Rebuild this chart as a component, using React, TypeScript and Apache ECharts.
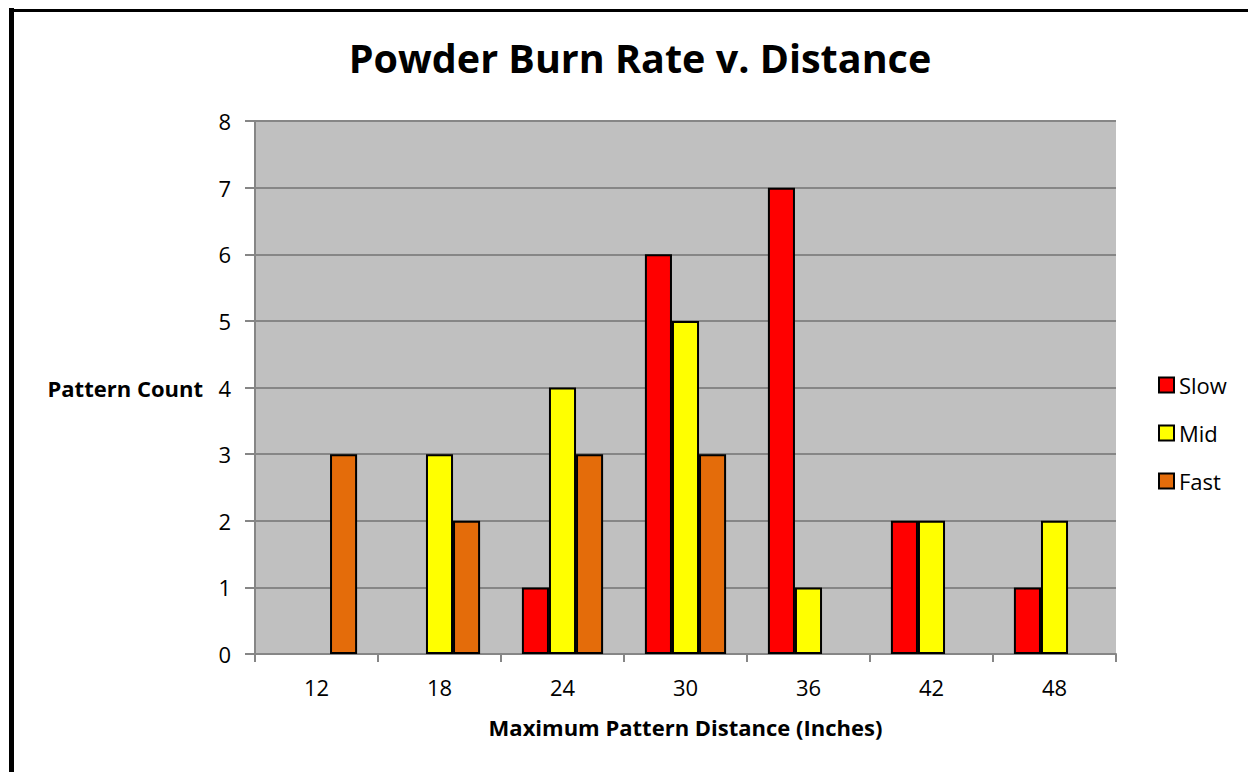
import React, { useEffect, useRef } from "react";
import * as echarts from "echarts";

const categories = ["12", "18", "24", "30", "36", "42", "48"];
const slowValues = [null, null, 1, 6, 7, 2, 1];
const midValues = [null, 3, 4, 5, 1, 2, 2];
const fastValues = [3, 2, 3, 3, null, null, null];
const yTicks = [0, 1, 2, 3, 4, 5, 6, 7, 8];

const FONT = "'Open Sans', 'Noto Sans', sans-serif";

export default function App() {
  const ref = useRef<HTMLDivElement>(null);
  useEffect(() => {
    if (!ref.current) return;
    const chart = echarts.init(ref.current, null, { renderer: "svg" });
    const barStyle = (color: string) => ({
      color,
      borderColor: "#000000",
      borderWidth: 2,
    });
    chart.setOption({
      animation: false,
      backgroundColor: "#ffffff",
      textStyle: { fontFamily: FONT },
      title: {
        text: "Powder Burn Rate v. Distance",
        left: 635,
        top: 33,
        textAlign: "center",
        textStyle: { fontFamily: FONT, fontWeight: "bold", fontSize: 39.5, color: "#000" },
      },
      grid: { left: 255, right: 132, top: 121, bottom: 118 },
      legend: {
        orient: "vertical",
        left: 1153,
        top: 369,
        itemWidth: 15,
        itemHeight: 15,
        itemGap: 26,
        icon: "rect",
        textStyle: { fontFamily: FONT, fontSize: 22, color: "#000" },
        data: ["Slow", "Mid", "Fast"],
      },
      xAxis: {
        type: "category",
        data: categories,
        axisLine: { lineStyle: { color: "#868686", width: 2 } },
        axisTick: { show: true, length: 8, lineStyle: { color: "#868686", width: 2 } },
        axisLabel: { fontFamily: FONT, fontSize: 22, color: "#000", margin: 22 },
        name: "Maximum Pattern Distance (Inches)",
        nameLocation: "middle",
        nameGap: 62,
        nameTextStyle: { fontFamily: FONT, fontSize: 22, fontWeight: "bold", color: "#000" },
      },
      yAxis: {
        type: "value",
        min: yTicks[0],
        max: yTicks[yTicks.length - 1],
        interval: 1,
        axisLine: { show: true, lineStyle: { color: "#868686", width: 2 } },
        axisTick: { show: true, length: 10, lineStyle: { color: "#868686", width: 2 } },
        axisLabel: { fontFamily: FONT, fontSize: 22, color: "#000", margin: 24 },
        splitLine: { show: true, lineStyle: { color: "#868686", width: 2 } },
        splitArea: { show: true, areaStyle: { color: ["#C0C0C0", "#C0C0C0"] } },
      },
      graphic: [
        {
          type: "text",
          x: 203,
          y: 388,
          style: {
            text: "Pattern Count",
            fontFamily: FONT,
            fontSize: 22,
            fontWeight: "bold",
            fill: "#000",
            align: "right",
            verticalAlign: "middle",
          },
        },
        {
          type: "line",
          shape: { x1: 11.5, y1: 8, x2: 11.5, y2: 772 },
          style: { stroke: "#000", lineWidth: 5 },
        },
        {
          type: "line",
          shape: { x1: 9, y1: 10.5, x2: 1248, y2: 10.5 },
          style: { stroke: "#000", lineWidth: 3 },
        },
      ],
      series: [
        {
          name: "Slow",
          type: "bar",
          data: slowValues,
          itemStyle: barStyle("#FF0000"),
          barGap: "0%",
          barCategoryGap: "34%",
        },
        {
          name: "Mid",
          type: "bar",
          data: midValues,
          itemStyle: barStyle("#FFFF00"),
        },
        {
          name: "Fast",
          type: "bar",
          data: fastValues,
          itemStyle: barStyle("#E46C0A"),
        },
      ],
    });
    return () => chart.dispose();
  }, []);
  return (
    <div
      ref={ref}
      style={{ position: "absolute", left: 0, top: 0, width: 1248, height: 772 }}
    />
  );
}
